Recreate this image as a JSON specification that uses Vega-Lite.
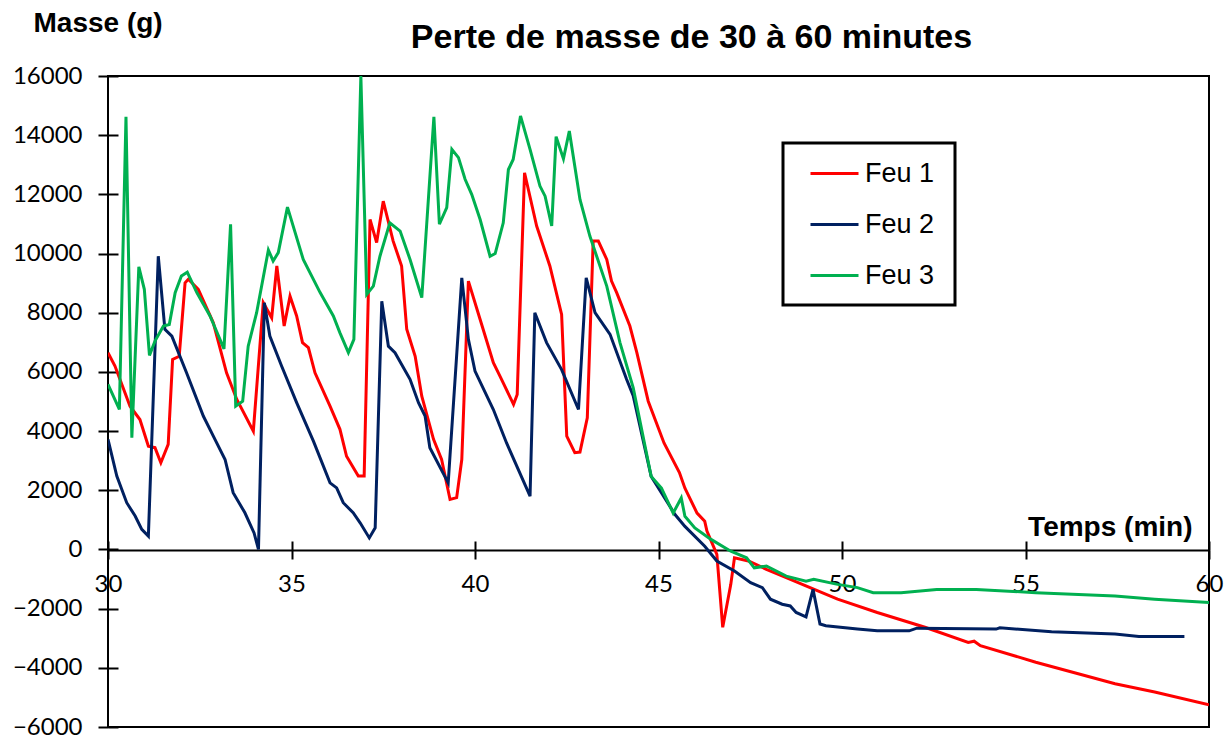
{
  "$schema": "https://vega.github.io/schema/vega-lite/v6.json",
  "width": 1101,
  "height": 651,
  "autosize": {"type": "none"},
  "padding": {"left": 108, "top": 76, "right": 21, "bottom": 18},
  "background": "white",
  "config": {"view": {"stroke": "black", "strokeWidth": 2}, "axis": {"grid": false}, "legend": {"strokeWidth": 3}},
  "data": {"values": [
    {"feu":"Feu 1","t":30.0,"m":6650},{"feu":"Feu 1","t":30.19,"m":6200},{"feu":"Feu 1","t":30.6,"m":4840},{"feu":"Feu 1","t":30.87,"m":4390},{"feu":"Feu 1","t":31.1,"m":3490},{"feu":"Feu 1","t":31.28,"m":3440},{"feu":"Feu 1","t":31.44,"m":2930},{"feu":"Feu 1","t":31.64,"m":3550},{"feu":"Feu 1","t":31.76,"m":6420},{"feu":"Feu 1","t":31.94,"m":6530},{"feu":"Feu 1","t":32.1,"m":9010},{"feu":"Feu 1","t":32.19,"m":9130},{"feu":"Feu 1","t":32.46,"m":8790},{"feu":"Feu 1","t":32.87,"m":7660},{"feu":"Feu 1","t":33.23,"m":5970},{"feu":"Feu 1","t":33.51,"m":5070},{"feu":"Feu 1","t":33.96,"m":4000},{"feu":"Feu 1","t":34.23,"m":8340},{"feu":"Feu 1","t":34.46,"m":7830},{"feu":"Feu 1","t":34.6,"m":9580},{"feu":"Feu 1","t":34.8,"m":7550},{"feu":"Feu 1","t":34.96,"m":8560},{"feu":"Feu 1","t":35.14,"m":7890},{"feu":"Feu 1","t":35.3,"m":6990},{"feu":"Feu 1","t":35.46,"m":6820},{"feu":"Feu 1","t":35.64,"m":5970},{"feu":"Feu 1","t":36.05,"m":4840},{"feu":"Feu 1","t":36.32,"m":4060},{"feu":"Feu 1","t":36.5,"m":3150},{"feu":"Feu 1","t":36.82,"m":2480},{"feu":"Feu 1","t":36.98,"m":2480},{"feu":"Feu 1","t":37.14,"m":11150},{"feu":"Feu 1","t":37.32,"m":10370},{"feu":"Feu 1","t":37.5,"m":11770},{"feu":"Feu 1","t":37.77,"m":10420},{"feu":"Feu 1","t":38.0,"m":9580},{"feu":"Feu 1","t":38.14,"m":7440},{"feu":"Feu 1","t":38.37,"m":6530},{"feu":"Feu 1","t":38.55,"m":5180},{"feu":"Feu 1","t":38.87,"m":3720},{"feu":"Feu 1","t":39.09,"m":3040},{"feu":"Feu 1","t":39.32,"m":1690},{"feu":"Feu 1","t":39.5,"m":1750},{"feu":"Feu 1","t":39.64,"m":3040},{"feu":"Feu 1","t":39.82,"m":9070},{"feu":"Feu 1","t":40.14,"m":7770},{"feu":"Feu 1","t":40.5,"m":6310},{"feu":"Feu 1","t":40.68,"m":5860},{"feu":"Feu 1","t":41.05,"m":4900},{"feu":"Feu 1","t":41.15,"m":5240},{"feu":"Feu 1","t":41.35,"m":12730},{"feu":"Feu 1","t":41.68,"m":10930},{"feu":"Feu 1","t":42.04,"m":9580},{"feu":"Feu 1","t":42.36,"m":7940},{"feu":"Feu 1","t":42.5,"m":3830},{"feu":"Feu 1","t":42.72,"m":3270},{"feu":"Feu 1","t":42.86,"m":3290},{"feu":"Feu 1","t":43.06,"m":4450},{"feu":"Feu 1","t":43.22,"m":10420},{"feu":"Feu 1","t":43.36,"m":10420},{"feu":"Feu 1","t":43.59,"m":9800},{"feu":"Feu 1","t":43.72,"m":9070},{"feu":"Feu 1","t":43.86,"m":8680},{"feu":"Feu 1","t":44.22,"m":7550},{"feu":"Feu 1","t":44.41,"m":6650},{"feu":"Feu 1","t":44.72,"m":5010},{"feu":"Feu 1","t":45.15,"m":3600},{"feu":"Feu 1","t":45.57,"m":2600},{"feu":"Feu 1","t":45.72,"m":2070},{"feu":"Feu 1","t":46.05,"m":1230},{"feu":"Feu 1","t":46.26,"m":950},{"feu":"Feu 1","t":46.32,"m":620},{"feu":"Feu 1","t":46.59,"m":-170},{"feu":"Feu 1","t":46.75,"m":-2630},{"feu":"Feu 1","t":46.97,"m":-1180},{"feu":"Feu 1","t":47.07,"m":-280},{"feu":"Feu 1","t":47.45,"m":-390},{"feu":"Feu 1","t":47.94,"m":-670},{"feu":"Feu 1","t":48.48,"m":-950},{"feu":"Feu 1","t":49.13,"m":-1290},{"feu":"Feu 1","t":49.88,"m":-1680},{"feu":"Feu 1","t":50.96,"m":-2130},{"feu":"Feu 1","t":52.26,"m":-2630},{"feu":"Feu 1","t":53.44,"m":-3140},{"feu":"Feu 1","t":53.6,"m":-3100},{"feu":"Feu 1","t":53.77,"m":-3250},{"feu":"Feu 1","t":55.28,"m":-3810},{"feu":"Feu 1","t":57.44,"m":-4540},{"feu":"Feu 1","t":58.52,"m":-4820},{"feu":"Feu 1","t":60.0,"m":-5250},
    {"feu":"Feu 2","t":30.0,"m":3720},{"feu":"Feu 2","t":30.24,"m":2480},{"feu":"Feu 2","t":30.51,"m":1580},{"feu":"Feu 2","t":30.74,"m":1130},{"feu":"Feu 2","t":30.92,"m":680},{"feu":"Feu 2","t":31.1,"m":450},{"feu":"Feu 2","t":31.37,"m":9910},{"feu":"Feu 2","t":31.55,"m":7440},{"feu":"Feu 2","t":31.74,"m":7210},{"feu":"Feu 2","t":32.14,"m":5970},{"feu":"Feu 2","t":32.6,"m":4500},{"feu":"Feu 2","t":32.87,"m":3830},{"feu":"Feu 2","t":33.19,"m":3040},{"feu":"Feu 2","t":33.41,"m":1920},{"feu":"Feu 2","t":33.73,"m":1240},{"feu":"Feu 2","t":33.98,"m":560},{"feu":"Feu 2","t":34.1,"m":0},{"feu":"Feu 2","t":34.26,"m":8340},{"feu":"Feu 2","t":34.41,"m":7210},{"feu":"Feu 2","t":34.73,"m":6200},{"feu":"Feu 2","t":35.14,"m":4960},{"feu":"Feu 2","t":35.6,"m":3650},{"feu":"Feu 2","t":36.05,"m":2250},{"feu":"Feu 2","t":36.23,"m":2080},{"feu":"Feu 2","t":36.41,"m":1580},{"feu":"Feu 2","t":36.68,"m":1240},{"feu":"Feu 2","t":36.87,"m":900},{"feu":"Feu 2","t":37.12,"m":390},{"feu":"Feu 2","t":37.28,"m":730},{"feu":"Feu 2","t":37.46,"m":8390},{"feu":"Feu 2","t":37.64,"m":6870},{"feu":"Feu 2","t":37.82,"m":6650},{"feu":"Feu 2","t":38.23,"m":5750},{"feu":"Feu 2","t":38.46,"m":4960},{"feu":"Feu 2","t":38.64,"m":4510},{"feu":"Feu 2","t":38.77,"m":3440},{"feu":"Feu 2","t":39.27,"m":2250},{"feu":"Feu 2","t":39.64,"m":9180},{"feu":"Feu 2","t":39.82,"m":7100},{"feu":"Feu 2","t":40.0,"m":6030},{"feu":"Feu 2","t":40.5,"m":4730},{"feu":"Feu 2","t":40.86,"m":3600},{"feu":"Feu 2","t":41.5,"m":1800},{"feu":"Feu 2","t":41.63,"m":8000},{"feu":"Feu 2","t":41.95,"m":6990},{"feu":"Feu 2","t":42.36,"m":6080},{"feu":"Feu 2","t":42.82,"m":4730},{"feu":"Feu 2","t":43.03,"m":9180},{"feu":"Feu 2","t":43.27,"m":8000},{"feu":"Feu 2","t":43.68,"m":7270},{"feu":"Feu 2","t":44.13,"m":5750},{"feu":"Feu 2","t":44.31,"m":5200},{"feu":"Feu 2","t":44.8,"m":2470},{"feu":"Feu 2","t":45.45,"m":1180},{"feu":"Feu 2","t":45.72,"m":780},{"feu":"Feu 2","t":46.26,"m":110},{"feu":"Feu 2","t":46.59,"m":-390},{"feu":"Feu 2","t":47.07,"m":-730},{"feu":"Feu 2","t":47.51,"m":-1120},{"feu":"Feu 2","t":47.83,"m":-1290},{"feu":"Feu 2","t":48.05,"m":-1680},{"feu":"Feu 2","t":48.37,"m":-1850},{"feu":"Feu 2","t":48.59,"m":-1910},{"feu":"Feu 2","t":48.75,"m":-2130},{"feu":"Feu 2","t":49.02,"m":-2280},{"feu":"Feu 2","t":49.21,"m":-1350},{"feu":"Feu 2","t":49.4,"m":-2520},{"feu":"Feu 2","t":49.56,"m":-2580},{"feu":"Feu 2","t":50.42,"m":-2690},{"feu":"Feu 2","t":50.96,"m":-2750},{"feu":"Feu 2","t":51.83,"m":-2750},{"feu":"Feu 2","t":52.04,"m":-2660},{"feu":"Feu 2","t":54.2,"m":-2690},{"feu":"Feu 2","t":54.3,"m":-2650},{"feu":"Feu 2","t":55.71,"m":-2780},{"feu":"Feu 2","t":57.44,"m":-2860},{"feu":"Feu 2","t":58.09,"m":-2940},{"feu":"Feu 2","t":59.33,"m":-2940},
    {"feu":"Feu 3","t":30.0,"m":5580},{"feu":"Feu 3","t":30.31,"m":4730},{"feu":"Feu 3","t":30.49,"m":14620},{"feu":"Feu 3","t":30.65,"m":3780},{"feu":"Feu 3","t":30.84,"m":9550},{"feu":"Feu 3","t":30.99,"m":8790},{"feu":"Feu 3","t":31.13,"m":6560},{"feu":"Feu 3","t":31.28,"m":7040},{"feu":"Feu 3","t":31.51,"m":7550},{"feu":"Feu 3","t":31.67,"m":7600},{"feu":"Feu 3","t":31.83,"m":8680},{"feu":"Feu 3","t":32.0,"m":9240},{"feu":"Feu 3","t":32.16,"m":9370},{"feu":"Feu 3","t":32.42,"m":8680},{"feu":"Feu 3","t":32.78,"m":7890},{"feu":"Feu 3","t":33.16,"m":6780},{"feu":"Feu 3","t":33.34,"m":10990},{"feu":"Feu 3","t":33.48,"m":4840},{"feu":"Feu 3","t":33.67,"m":5010},{"feu":"Feu 3","t":33.82,"m":6870},{"feu":"Feu 3","t":34.05,"m":8000},{"feu":"Feu 3","t":34.37,"m":10120},{"feu":"Feu 3","t":34.5,"m":9750},{"feu":"Feu 3","t":34.64,"m":10030},{"feu":"Feu 3","t":34.89,"m":11570},{"feu":"Feu 3","t":35.32,"m":9800},{"feu":"Feu 3","t":35.78,"m":8680},{"feu":"Feu 3","t":36.14,"m":7890},{"feu":"Feu 3","t":36.32,"m":7320},{"feu":"Feu 3","t":36.55,"m":6650},{"feu":"Feu 3","t":36.7,"m":7100},{"feu":"Feu 3","t":36.89,"m":16000},{"feu":"Feu 3","t":37.05,"m":8620},{"feu":"Feu 3","t":37.23,"m":8900},{"feu":"Feu 3","t":37.41,"m":9910},{"feu":"Feu 3","t":37.68,"m":11040},{"feu":"Feu 3","t":37.96,"m":10760},{"feu":"Feu 3","t":38.23,"m":9800},{"feu":"Feu 3","t":38.55,"m":8510},{"feu":"Feu 3","t":38.88,"m":14620},{"feu":"Feu 3","t":39.03,"m":10990},{"feu":"Feu 3","t":39.23,"m":11550},{"feu":"Feu 3","t":39.37,"m":13520},{"feu":"Feu 3","t":39.55,"m":13240},{"feu":"Feu 3","t":39.73,"m":12510},{"feu":"Feu 3","t":39.91,"m":12000},{"feu":"Feu 3","t":40.14,"m":11150},{"feu":"Feu 3","t":40.41,"m":9910},{"feu":"Feu 3","t":40.55,"m":10000},{"feu":"Feu 3","t":40.77,"m":11040},{"feu":"Feu 3","t":40.91,"m":12840},{"feu":"Feu 3","t":41.04,"m":13180},{"feu":"Feu 3","t":41.24,"m":14650},{"feu":"Feu 3","t":41.5,"m":13520},{"feu":"Feu 3","t":41.77,"m":12280},{"feu":"Feu 3","t":41.91,"m":11940},{"feu":"Feu 3","t":42.09,"m":10930},{"feu":"Feu 3","t":42.21,"m":13950},{"feu":"Feu 3","t":42.41,"m":13200},{"feu":"Feu 3","t":42.57,"m":14140},{"feu":"Feu 3","t":42.86,"m":11830},{"feu":"Feu 3","t":43.13,"m":10590},{"feu":"Feu 3","t":43.59,"m":8900},{"feu":"Feu 3","t":43.95,"m":6990},{"feu":"Feu 3","t":44.31,"m":5470},{"feu":"Feu 3","t":44.8,"m":2470},{"feu":"Feu 3","t":45.08,"m":2070},{"feu":"Feu 3","t":45.4,"m":1230},{"feu":"Feu 3","t":45.62,"m":1740},{"feu":"Feu 3","t":45.72,"m":1120},{"feu":"Feu 3","t":45.99,"m":730},{"feu":"Feu 3","t":46.43,"m":340},{"feu":"Feu 3","t":46.97,"m":-60},{"feu":"Feu 3","t":47.4,"m":-280},{"feu":"Feu 3","t":47.61,"m":-620},{"feu":"Feu 3","t":47.94,"m":-560},{"feu":"Feu 3","t":48.48,"m":-900},{"feu":"Feu 3","t":49.02,"m":-1070},{"feu":"Feu 3","t":49.23,"m":-1010},{"feu":"Feu 3","t":49.88,"m":-1180},{"feu":"Feu 3","t":50.42,"m":-1290},{"feu":"Feu 3","t":50.85,"m":-1460},{"feu":"Feu 3","t":51.61,"m":-1460},{"feu":"Feu 3","t":52.58,"m":-1350},{"feu":"Feu 3","t":53.66,"m":-1350},{"feu":"Feu 3","t":55.28,"m":-1460},{"feu":"Feu 3","t":57.44,"m":-1570},{"feu":"Feu 3","t":58.52,"m":-1680},{"feu":"Feu 3","t":60.0,"m":-1790}
  ]},
  "layer": [
    {
      "mark": {"type": "line", "strokeWidth": 3, "clip": true},
      "encoding": {
        "x": {"field": "t", "type": "quantitative", "scale": {"domain": [30, 60], "nice": false, "zero": false},
          "axis": {"orient": "bottom", "offset": -177, "values": [30, 35, 40, 45, 50, 55, 60], "labelFlush": false, "labelOverlap": false,
            "domainColor": "black", "domainWidth": 2, "tickColor": "black", "tickWidth": 2, "tickSize": 9,
            "labelFont": "Lato", "labelFontSize": 24, "labelColor": "black", "labelPadding": 13,
            "title": "Temps (min)", "titleFont": "Liberation Sans", "titleFontWeight": "bold", "titleFontSize": 28, "titleColor": "black",
            "titleX": 1084, "titleY": -15, "titleAlign": "right", "titleBaseline": "alphabetic", "titleAngle": 0}},
        "y": {"field": "m", "type": "quantitative", "scale": {"domain": [-6000, 16000], "nice": false, "zero": false},
          "axis": {"orient": "left", "values": [-6000, -4000, -2000, 0, 2000, 4000, 6000, 8000, 10000, 12000, 14000, 16000], "format": "d", "labelOverlap": false, "labelFlush": false,
            "domain": false, "tickColor": "black", "tickWidth": 2, "tickSize": 10,
            "labelFont": "Lato", "labelFontSize": 24, "labelColor": "black", "labelPadding": 16,
            "title": "Masse (g)", "titleFont": "Liberation Sans", "titleFontWeight": "bold", "titleFontSize": 28, "titleColor": "black",
            "titleAngle": 0, "titleX": -75, "titleY": -45, "titleAlign": "left", "titleBaseline": "alphabetic"}},
        "color": {"field": "feu", "type": "nominal",
          "scale": {"domain": ["Feu 1", "Feu 2", "Feu 3"], "range": ["#FF0000", "#002060", "#00B050"]},
          "legend": {"orient": "none", "legendX": 675, "legendY": 67, "title": " ", "titleOrient": "bottom", "titleFontSize": 2, "titlePadding": 9,
            "strokeColor": "black", "fillColor": "white",
            "padding": 5, "symbolType": "stroke", "symbolSize": 2304, "symbolStrokeWidth": 3, "symbolOffset": 21, "rowPadding": 12,
            "labelFont": "Liberation Sans", "labelFontSize": 27, "labelColor": "black", "labelOffset": 5, "labelExpr": "datum.label + '\u00a0\u00a0\u200b'"}}
      }
    },
    {
      "mark": {"type": "line", "opacity": 0},
      "encoding": {
        "x": {"field": "t", "type": "quantitative",
          "axis": {"orient": "top", "offset": -474, "values": [30, 35, 40, 45, 50, 55, 60], "labels": false, "domain": false,
            "tickColor": "black", "tickWidth": 2, "tickSize": 9,
            "title": "Perte de masse de 30 à 60 minutes", "titleFont": "Liberation Sans", "titleFontWeight": "bold", "titleFontSize": 34, "titleColor": "black",
            "titleX": 583, "titleY": -503, "titleAlign": "center", "titleBaseline": "alphabetic", "titleAngle": 0}},
        "y": {"field": "m", "type": "quantitative",
          "axis": {"orient": "right", "offset": -1101, "values": [-6000, -4000, -2000, 0, 2000, 4000, 6000, 8000, 10000, 12000, 14000, 16000], "labels": false, "domain": false,
            "tickColor": "black", "tickWidth": 2, "tickSize": 10, "title": null}},
        "detail": {"field": "feu"}
      }
    }
  ],
  "resolve": {"axis": {"x": "independent", "y": "independent"}}
}
